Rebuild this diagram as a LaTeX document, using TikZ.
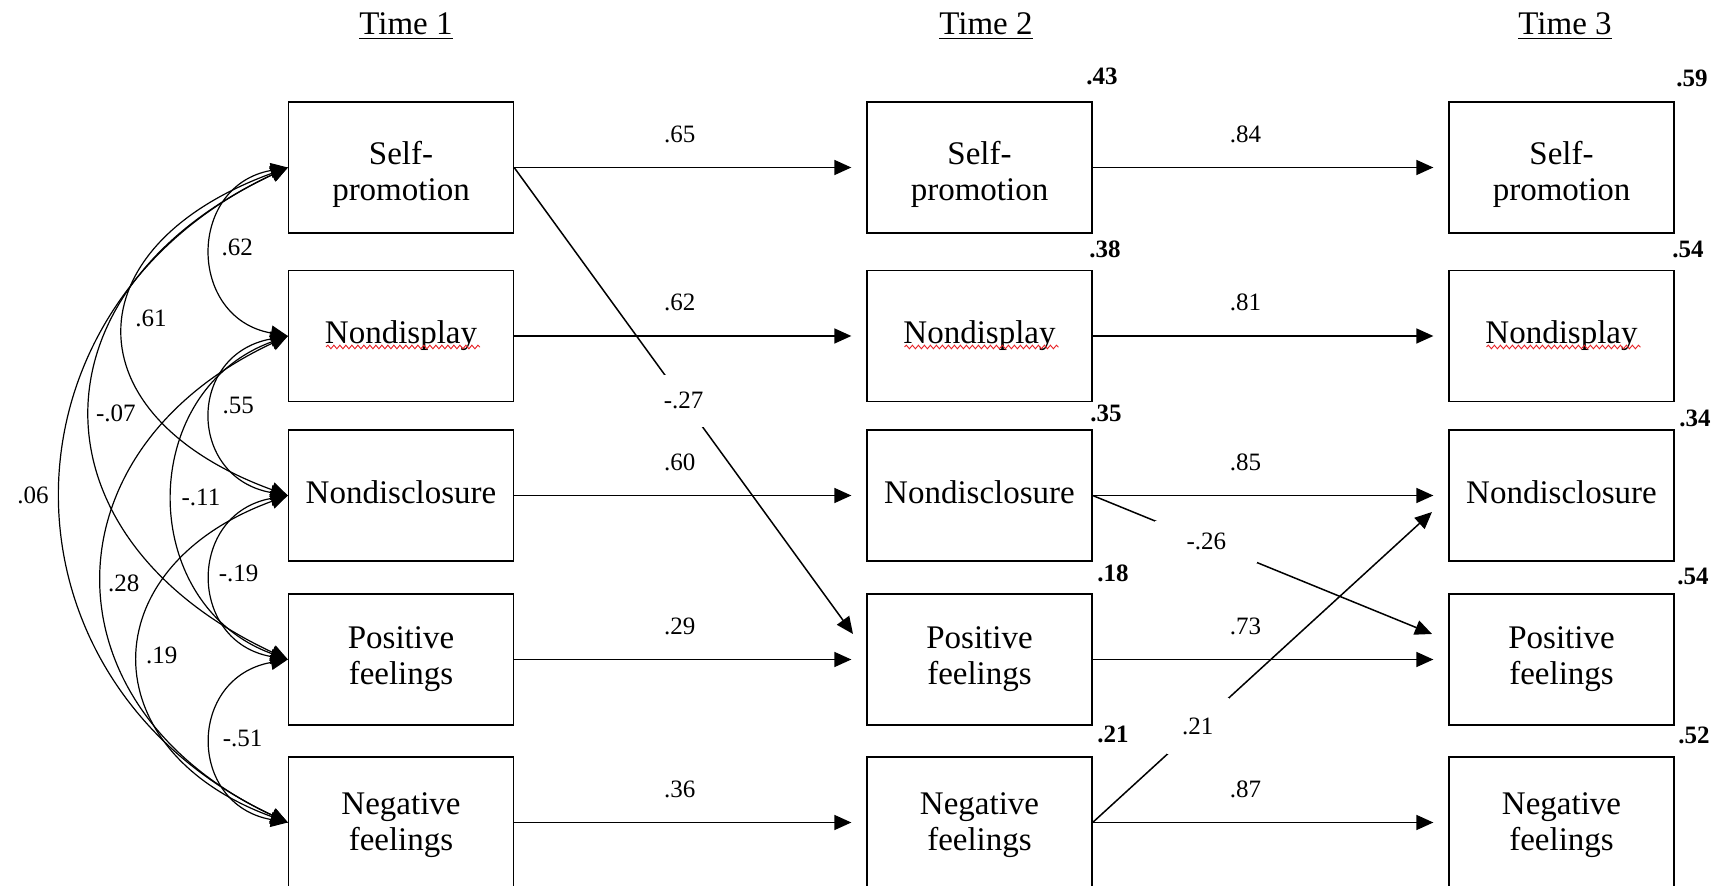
\documentclass[tikz,border=0pt]{standalone}
\usepackage{fontspec}
\setmainfont{Liberation Serif}
\usepackage{tikz}
\usetikzlibrary{calc,arrows.meta,positioning,decorations.pathmorphing}
\definecolor{spellred}{RGB}{232,32,36}

\begin{document}
\begin{tikzpicture}[x=0.5pt,y=0.5pt,
  >={Triangle[length=8.5pt,width=7.5pt]},
  varbox/.style={draw, line width=0.65pt, minimum width=112.5pt, minimum height=65.5pt,
    inner sep=0pt, align=center, font=\fontsize{16.5}{18}\selectfont},
  timelbl/.style={anchor=base, font=\fontsize{16.5}{18}\selectfont},
  coef/.style={font=\fontsize{12.5}{14}\selectfont, inner sep=2pt},
  gapcoef/.style={coef, fill=white},
  rsq/.style={anchor=base, font=\bfseries\fontsize{12.5}{14}\selectfont},
  regarrow/.style={->, line width=0.75pt, shorten >=7.5pt},
  corrarc/.style={<->, line width=0.6pt},
  spellcheck/.style={spellred, line width=0.45pt, decorate,
    decoration={snake, amplitude=0.9pt, segment length=3pt}}]
\useasboundingbox (0,0) rectangle (1720,-886);

% column headings
\node[timelbl] (t1) at (406,-35) {\underline{Time 1}};
\node[timelbl] (t2) at (986,-35) {\underline{Time 2}};
\node[timelbl] (t3) at (1565,-35) {\underline{Time 3}};

% the five variables at each wave
\foreach \c/\xc in {1/401,2/979.5,3/1561.5} {
  \node[varbox] (sp\c)  at (\xc,-167.5) {\rule{0pt}{19pt}Self-\\promotion};
  \node[varbox] (nd\c)  at (\xc,-336)   {Nondisplay};
  \node[varbox] (ncl\c) at (\xc,-495.5) {\rule[-3pt]{0pt}{3pt}Nondisclosure};
  \node[varbox] (pf\c)  at (\xc,-659.5) {Positive\\feelings};
  \node[varbox] (nf\c)  at (\xc,-822.5) {\rule{0pt}{14pt}Negative\\feelings};
  \draw[spellcheck] ($(nd\c.center)+(-75,-11)$) -- ($(nd\c.center)+(79,-11)$);
}

% explained variance
\node[rsq] (r2sp2)  at (1102,-85)  {.43};
\node[rsq] (r2nd2)  at (1105,-258) {.38};
\node[rsq] (r2ncl2) at (1106,-422) {.35};
\node[rsq] (r2pf2)  at (1113,-582) {.18};
\node[rsq] (r2nf2)  at (1113,-743) {.21};
\node[rsq] (r2sp3)  at (1692,-87)  {.59};
\node[rsq] (r2nd3)  at (1688,-258) {.54};
\node[rsq] (r2ncl3) at (1695,-427) {.34};
\node[rsq] (r2pf3)  at (1693,-585) {.54};
\node[rsq] (r2nf3)  at (1694,-744) {.52};

% stability paths
\foreach \v/\a/\b in {sp/.65/.84, nd/.62/.81, ncl/.60/.85, pf/.29/.73, nf/.36/.87} {
  \draw[regarrow] (\v1.east) -- node[coef, above=10pt, pos=0.47] (\v12) {\a} (\v2.west);
  \draw[regarrow] (\v2.east) -- node[coef, above=10pt, pos=0.43] (\v23) {\b} (\v3.west);
}

% cross-lagged paths
\coordinate (pf2tip) at (853,-634);
\coordinate (pf3tip) at (1432,-634);
\coordinate (ncl3tip) at (1432,-512);
\draw[->, line width=0.75pt] (sp1.east) -- node[gapcoef, pos=0.5, minimum width=20pt, minimum height=26pt] (sppf) {-.27} (pf2tip);
\draw[->, line width=0.75pt] (ncl2.east) -- node[gapcoef, pos=0.335, minimum width=51pt, minimum height=21pt] (nclpf) {-.26} (pf3tip);
\draw[->, line width=0.75pt] (nf2.east) -- node[gapcoef, pos=0.31, minimum width=31pt, minimum height=28pt] (nfncl) {.21} (ncl3tip);

% correlations at Time 1
\draw[corrarc] (sp1.west) to[out=190,in=170,looseness=1.56] node[coef, right=2.5pt, yshift=2pt] (c62) {.62} (nd1.west);
\draw[corrarc] (sp1.west) to[out=200,in=160,looseness=1.81] node[coef, right=3pt, yshift=6.5pt] (c61) {.61} (ncl1.west);
\draw[corrarc] (sp1.west) to[out=205,in=155,looseness=1.505] node[coef, right=0pt] (c07) {-.07} (pf1.west);
\draw[corrarc] (sp1.west) to[out=205,in=155,looseness=1.30] node[coef, left=4.5pt] (c06) {.06} (nf1.west);
\draw[corrarc] (nd1.west) to[out=190,in=170,looseness=1.65] node[coef, right=3pt, yshift=5pt] (c55) {.55} (ncl1.west);
\draw[corrarc] (nd1.west) to[out=200,in=160,looseness=1.28] node[coef, right=1.5pt] (c11) {-.11} (pf1.west);
\draw[corrarc] (nd1.west) to[out=205,in=155,looseness=1.43] node[coef, right=0pt, yshift=-2pt] (c28) {.28} (nf1.west);
\draw[corrarc] (ncl1.west) to[out=190,in=170,looseness=1.60] node[coef, right=1pt, yshift=2pt] (c19n) {-.19} (pf1.west);
\draw[corrarc] (ncl1.west) to[out=200,in=160,looseness=1.65] node[coef, right=1pt, yshift=2pt] (c19) {.19} (nf1.west);
\draw[corrarc] (pf1.west) to[out=190,in=170,looseness=1.61] node[coef, right=3pt, yshift=1.5pt] (c51) {-.51} (nf1.west);
\end{tikzpicture}
\end{document}
